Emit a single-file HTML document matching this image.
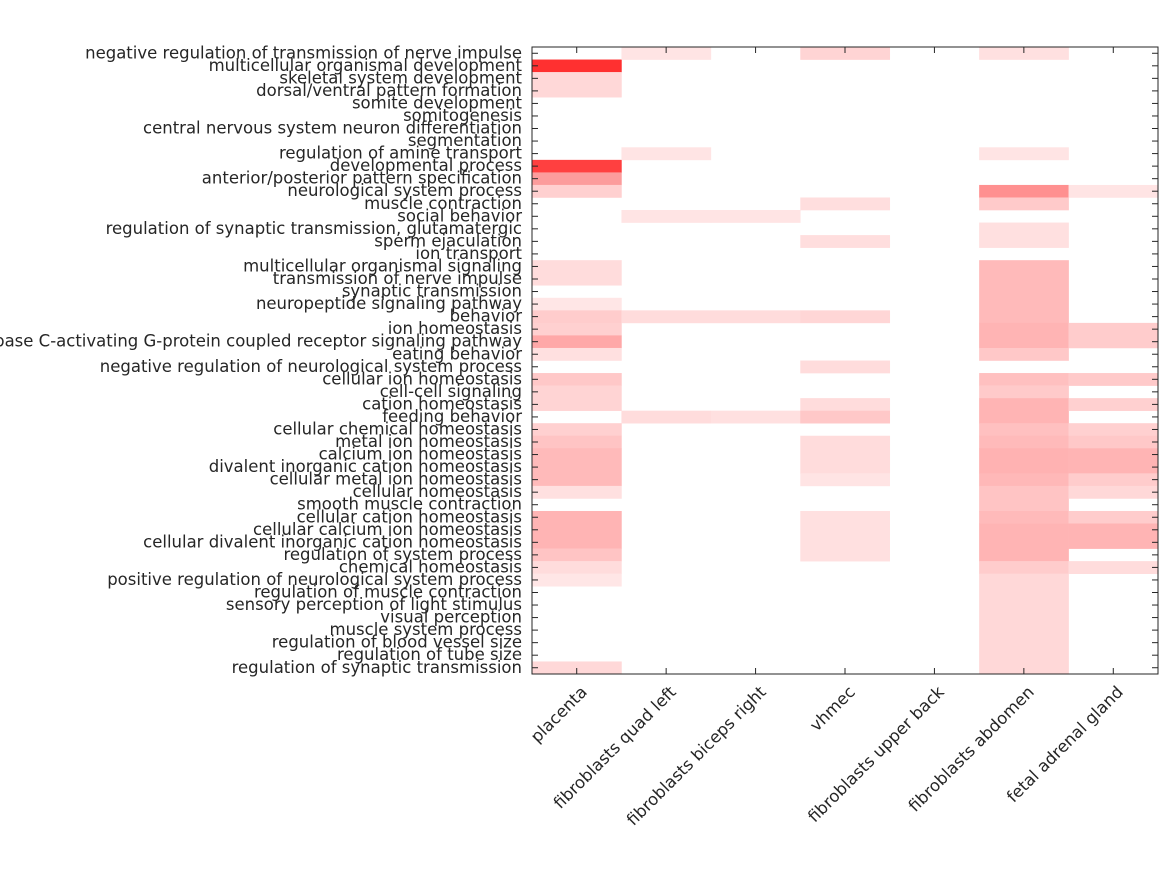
<!DOCTYPE html>
<html><head><meta charset="utf-8"><style>
html,body{margin:0;padding:0;background:#fff;}
svg text{font-family:"DejaVu Sans","Liberation Sans",sans-serif;font-size:16.5px;fill:#262626;}
</style></head><body>
<svg id="s" width="1167" height="875" xmlns="http://www.w3.org/2000/svg">
<rect width="1167" height="875" fill="#fff"/>
<g id="cells"></g>
<g id="ticks" stroke="#262626" stroke-width="1"></g>
<rect x="532" y="47" width="626" height="627" fill="none" stroke="#262626" stroke-width="1"/>
<g text-anchor="end">
<text x="522" y="58.3">negative regulation of transmission of nerve impulse</text>
<text x="522" y="70.8">multicellular organismal development</text>
<text x="522" y="83.4">skeletal system development</text>
<text x="522" y="95.9">dorsal/ventral pattern formation</text>
<text x="522" y="108.5">somite development</text>
<text x="522" y="121.0">somitogenesis</text>
<text x="522" y="133.5">central nervous system neuron differentiation</text>
<text x="522" y="146.1">segmentation</text>
<text x="522" y="158.6">regulation of amine transport</text>
<text x="522" y="171.2">developmental process</text>
<text x="522" y="183.7">anterior/posterior pattern specification</text>
<text x="522" y="196.2">neurological system process</text>
<text x="522" y="208.8">muscle contraction</text>
<text x="522" y="221.3">social behavior</text>
<text x="522" y="233.9">regulation of synaptic transmission, glutamatergic</text>
<text x="522" y="246.4">sperm ejaculation</text>
<text x="522" y="258.9">ion transport</text>
<text x="522" y="271.5">multicellular organismal signaling</text>
<text x="522" y="284.0">transmission of nerve impulse</text>
<text x="522" y="296.6">synaptic transmission</text>
<text x="522" y="309.1">neuropeptide signaling pathway</text>
<text x="522" y="321.6">behavior</text>
<text x="522" y="334.2">ion homeostasis</text>
<text x="522" y="346.7">phospholipase C-activating G-protein coupled receptor signaling pathway</text>
<text x="522" y="359.3">eating behavior</text>
<text x="522" y="371.8">negative regulation of neurological system process</text>
<text x="522" y="384.3">cellular ion homeostasis</text>
<text x="522" y="396.9">cell-cell signaling</text>
<text x="522" y="409.4">cation homeostasis</text>
<text x="522" y="422.0">feeding behavior</text>
<text x="522" y="434.5">cellular chemical homeostasis</text>
<text x="522" y="447.0">metal ion homeostasis</text>
<text x="522" y="459.6">calcium ion homeostasis</text>
<text x="522" y="472.1">divalent inorganic cation homeostasis</text>
<text x="522" y="484.7">cellular metal ion homeostasis</text>
<text x="522" y="497.2">cellular homeostasis</text>
<text x="522" y="509.7">smooth muscle contraction</text>
<text x="522" y="522.3">cellular cation homeostasis</text>
<text x="522" y="534.8">cellular calcium ion homeostasis</text>
<text x="522" y="547.4">cellular divalent inorganic cation homeostasis</text>
<text x="522" y="559.9">regulation of system process</text>
<text x="522" y="572.4">chemical homeostasis</text>
<text x="522" y="585.0">positive regulation of neurological system process</text>
<text x="522" y="597.5">regulation of muscle contraction</text>
<text x="522" y="610.1">sensory perception of light stimulus</text>
<text x="522" y="622.6">visual perception</text>
<text x="522" y="635.1">muscle system process</text>
<text x="522" y="647.7">regulation of blood vessel size</text>
<text x="522" y="660.2">regulation of tube size</text>
<text x="522" y="672.8">regulation of synaptic transmission</text>
</g>
<g text-anchor="end">
<text transform="translate(588,693) rotate(-45)">placenta</text>
<text transform="translate(677,693) rotate(-45)">fibroblasts quad left</text>
<text transform="translate(767,693) rotate(-45)">fibroblasts biceps right</text>
<text transform="translate(856,693) rotate(-45)">vhmec</text>
<text transform="translate(945,693) rotate(-45)">fibroblasts upper back</text>
<text transform="translate(1035,693) rotate(-45)">fibroblasts abdomen</text>
<text transform="translate(1124,693) rotate(-45)">fetal adrenal gland</text>
</g>
</svg>
<script>
var cells=[
[0,[[2,2,'#ff3030'],[3,4,'#ffd8d8'],[10,10,'#ff4040'],[11,11,'#fc9c9c'],[12,12,'#ffd0d0'],[18,19,'#ffdcdc'],[21,21,'#ffe6e6'],[22,22,'#ffcccc'],[23,23,'#ffd0d0'],[24,24,'#ffa8a8'],[25,25,'#ffe0e0'],[27,27,'#ffc8c8'],[28,29,'#ffd4d4'],[31,31,'#ffd0d0'],[32,32,'#ffc4c4'],[33,35,'#ffbaba'],[36,36,'#ffe0e0'],[38,40,'#ffb4b4'],[41,41,'#ffc4c4'],[42,42,'#ffdcdc'],[43,43,'#ffe6e6'],[50,50,'#ffd8d8']]],
[1,[[1,1,'#ffe4e4'],[9,9,'#ffe4e4'],[14,14,'#ffe4e4'],[22,22,'#ffdcdc'],[30,30,'#ffdcdc']]],
[2,[[14,14,'#ffe4e4'],[22,22,'#ffdcdc'],[30,30,'#ffe0e0']]],
[3,[[1,1,'#ffd4d4'],[13,13,'#ffdede'],[16,16,'#ffdede'],[22,22,'#ffd6d6'],[26,26,'#ffdcdc'],[29,29,'#ffdcdc'],[30,30,'#ffc8c8'],[32,34,'#ffdcdc'],[35,35,'#ffe4e4'],[38,41,'#ffe0e0']]],
[5,[[1,1,'#ffe0e0'],[9,9,'#ffe4e4'],[12,12,'#ff9090'],[13,13,'#ffcaca'],[15,16,'#ffe0e0'],[18,22,'#ffbaba'],[23,24,'#ffb4b4'],[25,25,'#ffc8c8'],[27,27,'#ffc0c0'],[28,28,'#ffcaca'],[29,30,'#ffb4b4'],[31,31,'#ffc0c0'],[32,32,'#ffbaba'],[33,34,'#ffb2b2'],[35,35,'#ffb8b8'],[36,37,'#ffc4c4'],[38,38,'#ffbaba'],[39,41,'#ffb4b4'],[42,42,'#ffcccc'],[43,50,'#ffd8d8']]],
[6,[[12,12,'#ffe4e4'],[23,24,'#ffcccc'],[27,27,'#ffcaca'],[29,29,'#ffd0d0'],[31,31,'#ffd0d0'],[32,32,'#ffc8c8'],[33,34,'#ffb4b4'],[35,35,'#ffcccc'],[36,36,'#ffd8d8'],[38,38,'#ffcccc'],[39,40,'#ffb4b4'],[42,42,'#ffdcdc']]]
];
var NS='http://www.w3.org/2000/svg',g=document.getElementById('cells'),t=document.getElementById('ticks');
var cw=626/7,rh=627/50;
cells.forEach(function(c){c[1].forEach(function(r){var e=document.createElementNS(NS,'rect');
e.setAttribute('x',532+c[0]*cw);e.setAttribute('width',cw+0.3);
e.setAttribute('y',47+(r[0]-1)*rh);e.setAttribute('height',(r[1]-r[0]+1)*rh+0.3);
e.setAttribute('fill',r[2]);g.appendChild(e);});});
function ln(a,b,c,d){var e=document.createElementNS(NS,'line');e.setAttribute('x1',a);e.setAttribute('y1',b);e.setAttribute('x2',c);e.setAttribute('y2',d);t.appendChild(e);}
for(var i=0;i<7;i++){var x=532+(i+0.5)*cw;ln(x,674,x,668);ln(x,47,x,53);}
for(var j=0;j<50;j++){var y=47+(j+0.5)*rh;ln(532,y,538,y);ln(1158,y,1152,y);}
</script>
</body></html>
